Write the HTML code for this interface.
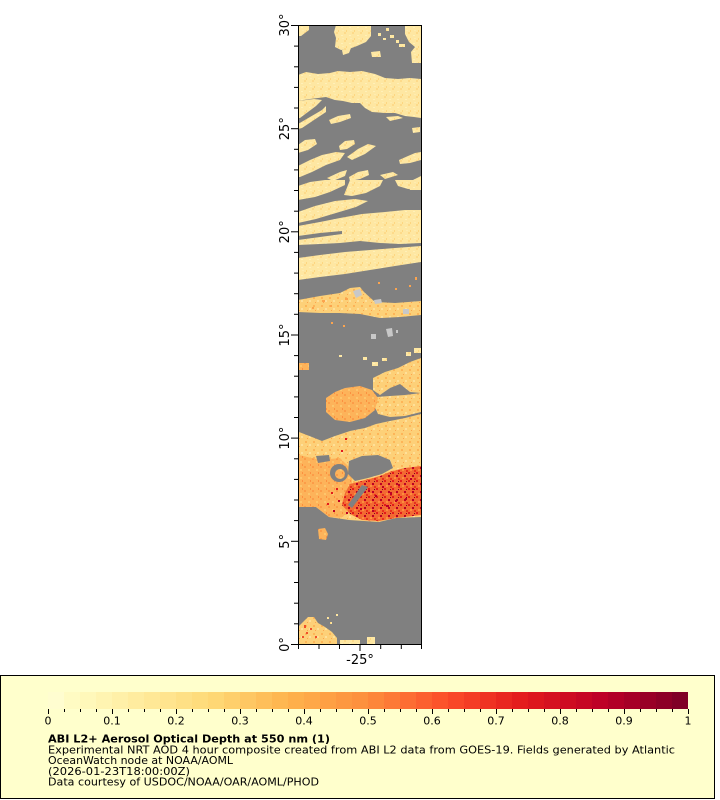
<!DOCTYPE html>
<html><head><meta charset="utf-8"><style>
html,body{margin:0;padding:0;background:#fff;}
svg{display:block;}
text{font-family:"DejaVu Sans","Liberation Sans",sans-serif;}
</style></head><body>
<svg width="720" height="800" viewBox="0 0 720 800" xmlns="http://www.w3.org/2000/svg">
<defs>
<pattern id="py" width="8" height="8" patternUnits="userSpaceOnUse"><rect width="8" height="8" fill="#fee7a2"/><rect x="0" y="0" width="2" height="2" fill="#fdda8a"/><rect x="5" y="3" width="2" height="1" fill="#fff0b8"/><rect x="2" y="6" width="1" height="2" fill="#fdd680"/><rect x="6" y="6" width="2" height="1" fill="#feecb0"/></pattern>
<pattern id="pyo" width="8" height="8" patternUnits="userSpaceOnUse"><rect width="8" height="8" fill="#fdd078"/><rect x="1" y="1" width="2" height="2" fill="#fdb558"/><rect x="5" y="4" width="2" height="2" fill="#fee09a"/><rect x="3" y="6" width="1" height="1" fill="#fca44e"/></pattern>
<pattern id="po" width="8" height="8" patternUnits="userSpaceOnUse"><rect width="8" height="8" fill="#fdb35a"/><rect x="0" y="2" width="2" height="2" fill="#fc9c48"/><rect x="4" y="5" width="2" height="2" fill="#fdc66c"/><rect x="6" y="0" width="1" height="2" fill="#fc9040"/></pattern>
<pattern id="pr" width="8" height="8" patternUnits="userSpaceOnUse"><rect width="8" height="8" fill="#f36a32"/><rect x="0" y="0" width="2" height="2" fill="#e31a1c"/><rect x="4" y="3" width="2" height="2" fill="#bd0026"/><rect x="2" y="5" width="2" height="2" fill="#fd8d3c"/><rect x="6" y="6" width="2" height="2" fill="#e8301e"/><rect x="6" y="1" width="1" height="1" fill="#800026"/></pattern>
</defs>

<rect x="0" y="0" width="720" height="800" fill="#ffffff"/>

<!-- map -->
<rect x="298" y="25" width="124" height="620" fill="#808080"/>
<g fill="url(#py)">
<polygon points="298,25 309,25 309,30 305,33 301,36 298,36"/>
<polygon points="336,25 371,25 371,36 366,42 357,46 349,49 341,50 335,47 336,38 334,32"/>
<polygon points="342,50 351,48 349,53 343,55"/>
<rect x="378" y="33" width="3" height="3"/><rect x="383" y="38" width="3" height="2"/><rect x="390" y="35" width="4" height="3"/><rect x="396" y="40" width="3" height="3"/><rect x="386" y="28" width="3" height="3"/><rect x="399" y="44" width="6" height="3"/>
<polygon points="405,25 421,25 421,63 412,63 411,52 415,47 409,42 405,34"/>
<polygon points="371,52 380,51 381,57 372,57"/>
<polygon points="298,75 306,72 318,74 330,73 338,71 350,72 362,71 375,74 385,78 398,79 410,78 421,79 421,118 414,117 405,116 395,113 385,113 372,112 365,108 360,103 352,103 343,101 335,100 326,97 318,98 310,99 304,100 298,101"/>
<polygon points="298,101 314,99 322,100 316,106 308,112 300,118 298,118"/>
<polygon points="298,124 310,117 322,110 326,106 326,112 314,120 302,128 298,129"/>
<polygon points="329,120 338,116 350,114 351,118 340,122 331,124"/>
<polygon points="386,117 398,116 403,118 390,121"/>
<polygon points="412,128 420,127 420,132 413,133"/>
<polygon points="298,145 305,140 315,139 317,144 308,150 298,153"/>
<polygon points="339,146 345,141 354,140 355,144 347,149 340,150"/>
<polygon points="347,157 358,149 368,144 376,146 365,154 352,160"/>
<polygon points="399,160 408,156 415,153 421,152 421,160 410,163 400,164"/>
<polygon points="298,166 310,160 322,155 336,152 345,153 340,160 326,165 312,172 300,177 298,177"/>
<polygon points="349,177 358,172 368,170 369,175 360,179 350,181"/>
<polygon points="327,178 340,172 347,170 345,176 333,181"/>
<polygon points="380,175 393,172 398,175 385,179"/>
<polygon points="407,183 421,176 421,190 410,190"/>
<polygon points="298,186 310,182 325,180 345,180 345,185 330,192 315,197 298,200"/>
<polygon points="350,180 383,180 380,186 366,193 352,196 344,195"/>
<polygon points="395,180 421,180 421,188 408,189 398,186"/>
<polygon points="298,212 315,206 335,201 355,199 368,201 356,207 336,213 316,219 298,223"/>
<polygon points="298,226 320,222 340,218 362,214 385,212 405,210 421,210 421,243 400,244 380,243 360,241 340,243 320,244 298,245"/>
<polygon points="298,258 320,255 345,252 370,250 395,248 421,246 421,262 395,266 370,270 345,274 320,277 298,280"/>
<rect x="363" y="357" width="4" height="3"/><rect x="372" y="362" width="6" height="4"/><rect x="382" y="358" width="5" height="3"/><rect x="406" y="352" width="5" height="4"/><rect x="414" y="348" width="7" height="5"/><rect x="339" y="355" width="3" height="2"/>
</g>
<!-- gray streak inside band -->
<polygon points="298,236 320,233 342,231 342,234 320,237 298,240" fill="#808080"/>
<!-- orange band 290-318 -->
<polygon points="298,300 320,296 340,293 350,288 360,287 364,292 375,302 395,303 421,301 421,315 400,317 380,318 360,314 340,313 320,313 298,312" fill="url(#pyo)"/>
<g fill="#fca44e"><rect x="322" y="300" width="3" height="2"/><rect x="330" y="305" width="2" height="2"/><rect x="345" y="298" width="3" height="2"/><rect x="312" y="307" width="2" height="2"/><rect x="395" y="288" width="2" height="2"/><rect x="409" y="285" width="2" height="2"/><rect x="415" y="277" width="2" height="3"/><rect x="331" y="322" width="2" height="2"/><rect x="343" y="325" width="2" height="2"/><rect x="378" y="282" width="2" height="2"/></g>
<!-- islands -->
<g fill="#c8c8c8">
<polygon points="353,291 360,289 362,295 356,298"/>
<polygon points="374,300 381,299 382,303 375,304"/>
<polygon points="403,309 409,309 409,314 403,314"/>
<polygon points="371,334 376,334 376,339 371,339"/>
<polygon points="386,329 392,328 393,336 388,337"/>
<rect x="396" y="330" width="2" height="3"/>
</g>
<!-- region 360-522 -->
<polygon points="299,363 309,363 309,370 299,370" fill="url(#po)"/>
<polygon points="373,378 385,372 398,368 410,362 421,358 421,393 410,392 400,384 390,388 380,395 373,390" fill="url(#pyo)"/>
<polygon points="376,397 390,396 405,395 421,393 421,412 405,416 390,417 378,414 374,405" fill="url(#pyo)"/>
<polygon points="326,398 335,392 345,388 360,386 372,390 378,398 375,410 365,418 350,422 335,420 326,412" fill="url(#po)"/>
<polygon points="299,432 312,437 322,441 335,436 350,431 365,428 376,424 390,421 405,418 421,414 421,517 396,518 379,522 349,520 329,517 316,507 299,507" fill="url(#pyo)"/>
<polygon points="299,455 320,460 340,458 352,470 352,505 342,518 329,517 316,507 299,507" fill="url(#po)"/>
<polygon points="316,456 329,455 330,461 318,463" fill="#808080"/>
<circle cx="339" cy="473" r="9" fill="#808080"/>
<circle cx="340" cy="474" r="5" fill="url(#po)"/>
<polygon points="349,461 362,456 378,455 390,460 393,468 382,474 368,478 355,481 348,474" fill="#808080"/>
<polygon points="350,484 365,480 380,476 392,471 405,468 421,466 421,515 405,517 396,518 379,521 362,520 350,514 342,505 345,493" fill="url(#pr)"/>
<polygon points="362,485 368,487 358,500 352,508 348,505 355,495" fill="#808080"/>
<g fill="#bd0026">
<rect x="368" y="490" width="2" height="2"/><rect x="375" y="495" width="2" height="2"/><rect x="382" y="486" width="2" height="2"/><rect x="390" y="492" width="2" height="3"/><rect x="398" y="484" width="2" height="2"/><rect x="405" y="498" width="2" height="2"/><rect x="412" y="488" width="2" height="2"/><rect x="360" y="508" width="2" height="2"/><rect x="372" y="510" width="2" height="2"/><rect x="386" y="505" width="3" height="2"/><rect x="395" y="500" width="2" height="2"/><rect x="410" y="478" width="2" height="2"/><rect x="338" y="500" width="2" height="2"/><rect x="333" y="510" width="2" height="2"/><rect x="346" y="512" width="2" height="2"/>
</g>
<g fill="#e31a1c"><rect x="331" y="492" width="2" height="2"/><rect x="336" y="488" width="2" height="2"/><rect x="327" y="503" width="2" height="2"/><rect x="341" y="450" width="2" height="2"/><rect x="345" y="438" width="2" height="2"/></g>
<polygon points="318,529 325,528 328,534 326,540 319,539" fill="url(#po)"/>
<!-- bottom left -->
<polygon points="298,627 303,622 308,617 314,617 318,623 325,627 332,632 337,638 337,644 298,644" fill="url(#pyo)"/>
<g fill="#f0502a"><rect x="304" y="625" width="2" height="3"/><rect x="306" y="632" width="2" height="2"/><rect x="310" y="628" width="2" height="2"/><rect x="302" y="636" width="2" height="2"/><rect x="315" y="636" width="2" height="2"/></g>
<g fill="url(#py)"><rect x="340" y="640" width="20" height="4"/><rect x="367" y="637" width="8" height="7"/><rect x="330" y="622" width="2" height="2"/><rect x="336" y="614" width="2" height="2"/><rect x="327" y="617" width="2" height="2"/></g>

<!-- frame -->
<rect x="298.5" y="25.5" width="123" height="619" fill="none" stroke="#000" stroke-width="1"/>
<!-- y ticks -->
<g stroke="#000" stroke-width="1">
<line x1="291" y1="25.5" x2="298" y2="25.5"/>
<line x1="294" y1="46.1" x2="298" y2="46.1"/><line x1="294" y1="66.8" x2="298" y2="66.8"/><line x1="294" y1="87.4" x2="298" y2="87.4"/><line x1="294" y1="108" x2="298" y2="108"/>
<line x1="291" y1="128.7" x2="298" y2="128.7"/>
<line x1="294" y1="149.3" x2="298" y2="149.3"/><line x1="294" y1="169.9" x2="298" y2="169.9"/><line x1="294" y1="190.5" x2="298" y2="190.5"/><line x1="294" y1="211.2" x2="298" y2="211.2"/>
<line x1="291" y1="231.8" x2="298" y2="231.8"/>
<line x1="294" y1="252.4" x2="298" y2="252.4"/><line x1="294" y1="273.1" x2="298" y2="273.1"/><line x1="294" y1="293.7" x2="298" y2="293.7"/><line x1="294" y1="314.3" x2="298" y2="314.3"/>
<line x1="291" y1="335" x2="298" y2="335"/>
<line x1="294" y1="355.6" x2="298" y2="355.6"/><line x1="294" y1="376.2" x2="298" y2="376.2"/><line x1="294" y1="396.9" x2="298" y2="396.9"/><line x1="294" y1="417.5" x2="298" y2="417.5"/>
<line x1="291" y1="438.1" x2="298" y2="438.1"/>
<line x1="294" y1="458.8" x2="298" y2="458.8"/><line x1="294" y1="479.4" x2="298" y2="479.4"/><line x1="294" y1="500" x2="298" y2="500"/><line x1="294" y1="520.6" x2="298" y2="520.6"/>
<line x1="291" y1="541.3" x2="298" y2="541.3"/>
<line x1="294" y1="561.9" x2="298" y2="561.9"/><line x1="294" y1="582.5" x2="298" y2="582.5"/><line x1="294" y1="603.2" x2="298" y2="603.2"/><line x1="294" y1="623.8" x2="298" y2="623.8"/>
<line x1="291" y1="644.5" x2="298" y2="644.5"/>
<!-- x ticks -->
<line x1="298.5" y1="645" x2="298.5" y2="649"/><line x1="319" y1="645" x2="319" y2="649"/><line x1="339.5" y1="645" x2="339.5" y2="649"/><line x1="360" y1="645" x2="360" y2="651"/><line x1="380.7" y1="645" x2="380.7" y2="649"/><line x1="401.3" y1="645" x2="401.3" y2="649"/><line x1="421.5" y1="645" x2="421.5" y2="649"/>
</g>
<g font-size="13" fill="#000" text-anchor="middle">
<text transform="translate(289,25) rotate(-90)">30°</text>
<text transform="translate(289,128.7) rotate(-90)">25°</text>
<text transform="translate(289,231.8) rotate(-90)">20°</text>
<text transform="translate(289,335) rotate(-90)">15°</text>
<text transform="translate(289,438.1) rotate(-90)">10°</text>
<text transform="translate(289,541.3) rotate(-90)">5°</text>
<text transform="translate(289,644.5) rotate(-90)">0°</text>
<text x="360" y="664">-25°</text>
</g>

<!-- legend -->
<rect x="0.5" y="675.5" width="714" height="123" fill="#ffffcc" stroke="#000" stroke-width="1"/>
<g>
<rect x="48" y="692" width="16" height="17" fill="#fffdd0"/><rect x="64" y="692" width="16" height="17" fill="#fffbc3"/><rect x="80" y="692" width="16" height="17" fill="#fff8ba"/><rect x="96" y="692" width="16" height="17" fill="#fff4b1"/><rect x="112" y="692" width="16" height="17" fill="#fff0a8"/>
<rect x="128" y="692" width="16" height="17" fill="#ffec9f"/><rect x="144" y="692" width="16" height="17" fill="#ffe896"/><rect x="160" y="692" width="16" height="17" fill="#ffe48e"/><rect x="176" y="692" width="16" height="17" fill="#fee085"/><rect x="192" y="692" width="16" height="17" fill="#fedc7c"/>
<rect x="208" y="692" width="16" height="17" fill="#fed774"/><rect x="224" y="692" width="16" height="17" fill="#fecf6b"/><rect x="240" y="692" width="16" height="17" fill="#fec763"/><rect x="256" y="692" width="16" height="17" fill="#febf5a"/><rect x="272" y="692" width="16" height="17" fill="#feb751"/>
<rect x="288" y="692" width="16" height="17" fill="#feaf4b"/><rect x="304" y="692" width="16" height="17" fill="#fea848"/><rect x="320" y="692" width="16" height="17" fill="#fea044"/><rect x="336" y="692" width="16" height="17" fill="#fd9841"/><rect x="352" y="692" width="16" height="17" fill="#fd913e"/>
<rect x="368" y="692" width="16" height="17" fill="#fd863a"/><rect x="384" y="692" width="16" height="17" fill="#fd7a37"/><rect x="400" y="692" width="16" height="17" fill="#fd6d33"/><rect x="416" y="692" width="16" height="17" fill="#fc602f"/><rect x="432" y="692" width="16" height="17" fill="#fc532b"/>
<rect x="448" y="692" width="16" height="17" fill="#f94728"/><rect x="464" y="692" width="16" height="17" fill="#f43d25"/><rect x="480" y="692" width="16" height="17" fill="#ef3223"/><rect x="496" y="692" width="16" height="17" fill="#e92720"/><rect x="512" y="692" width="16" height="17" fill="#e41d1d"/>
<rect x="528" y="692" width="16" height="17" fill="#dd161e"/><rect x="544" y="692" width="16" height="17" fill="#d51120"/><rect x="560" y="692" width="16" height="17" fill="#ce0b22"/><rect x="576" y="692" width="16" height="17" fill="#c60624"/><rect x="592" y="692" width="16" height="17" fill="#be0126"/>
<rect x="608" y="692" width="16" height="17" fill="#b20026"/><rect x="624" y="692" width="16" height="17" fill="#a60026"/><rect x="640" y="692" width="16" height="17" fill="#990026"/><rect x="656" y="692" width="16" height="17" fill="#8d0026"/><rect x="672" y="692" width="16" height="17" fill="#800026"/>
</g>
<g stroke="#000" stroke-width="1">
<line x1="48.5" y1="709" x2="48.5" y2="714"/><line x1="64.5" y1="709" x2="64.5" y2="712"/><line x1="80.5" y1="709" x2="80.5" y2="712"/><line x1="96.5" y1="709" x2="96.5" y2="712"/>
<line x1="112.5" y1="709" x2="112.5" y2="714"/><line x1="128.5" y1="709" x2="128.5" y2="712"/><line x1="144.5" y1="709" x2="144.5" y2="712"/><line x1="160.5" y1="709" x2="160.5" y2="712"/>
<line x1="176.5" y1="709" x2="176.5" y2="714"/><line x1="192.5" y1="709" x2="192.5" y2="712"/><line x1="208.5" y1="709" x2="208.5" y2="712"/><line x1="224.5" y1="709" x2="224.5" y2="712"/>
<line x1="240.5" y1="709" x2="240.5" y2="714"/><line x1="256.5" y1="709" x2="256.5" y2="712"/><line x1="272.5" y1="709" x2="272.5" y2="712"/><line x1="288.5" y1="709" x2="288.5" y2="712"/>
<line x1="304.5" y1="709" x2="304.5" y2="714"/><line x1="320.5" y1="709" x2="320.5" y2="712"/><line x1="336.5" y1="709" x2="336.5" y2="712"/><line x1="352.5" y1="709" x2="352.5" y2="712"/>
<line x1="368.5" y1="709" x2="368.5" y2="714"/><line x1="384.5" y1="709" x2="384.5" y2="712"/><line x1="400.5" y1="709" x2="400.5" y2="712"/><line x1="416.5" y1="709" x2="416.5" y2="712"/>
<line x1="432.5" y1="709" x2="432.5" y2="714"/><line x1="448.5" y1="709" x2="448.5" y2="712"/><line x1="464.5" y1="709" x2="464.5" y2="712"/><line x1="480.5" y1="709" x2="480.5" y2="712"/>
<line x1="496.5" y1="709" x2="496.5" y2="714"/><line x1="512.5" y1="709" x2="512.5" y2="712"/><line x1="528.5" y1="709" x2="528.5" y2="712"/><line x1="544.5" y1="709" x2="544.5" y2="712"/>
<line x1="560.5" y1="709" x2="560.5" y2="714"/><line x1="576.5" y1="709" x2="576.5" y2="712"/><line x1="592.5" y1="709" x2="592.5" y2="712"/><line x1="608.5" y1="709" x2="608.5" y2="712"/>
<line x1="624.5" y1="709" x2="624.5" y2="714"/><line x1="640.5" y1="709" x2="640.5" y2="712"/><line x1="656.5" y1="709" x2="656.5" y2="712"/><line x1="672.5" y1="709" x2="672.5" y2="712"/>
<line x1="688.5" y1="709" x2="688.5" y2="714"/>
</g>
<g font-size="11" fill="#000" text-anchor="middle">
<text x="48" y="724.5">0</text><text x="112" y="724.5">0.1</text><text x="176" y="724.5">0.2</text><text x="240" y="724.5">0.3</text><text x="304" y="724.5">0.4</text><text x="368" y="724.5">0.5</text><text x="432" y="724.5">0.6</text><text x="496" y="724.5">0.7</text><text x="560" y="724.5">0.8</text><text x="624" y="724.5">0.9</text><text x="688" y="724.5">1</text>
</g>
<g font-size="11" fill="#000">
<text x="48" y="742.5" font-weight="bold" textLength="282" lengthAdjust="spacingAndGlyphs">ABI L2+ Aerosol Optical Depth at 550 nm (1)</text>
<text x="48" y="753.3" textLength="627" lengthAdjust="spacingAndGlyphs">Experimental NRT AOD 4 hour composite created from ABI L2 data from GOES-19. Fields generated by Atlantic</text>
<text x="48" y="764.1" textLength="185" lengthAdjust="spacingAndGlyphs">OceanWatch node at NOAA/AOML</text>
<text x="48" y="774.9" textLength="142" lengthAdjust="spacingAndGlyphs">(2026-01-23T18:00:00Z)</text>
<text x="48" y="785.7" textLength="271" lengthAdjust="spacingAndGlyphs">Data courtesy of USDOC/NOAA/OAR/AOML/PHOD</text>
</g>
</svg>
</body></html>
